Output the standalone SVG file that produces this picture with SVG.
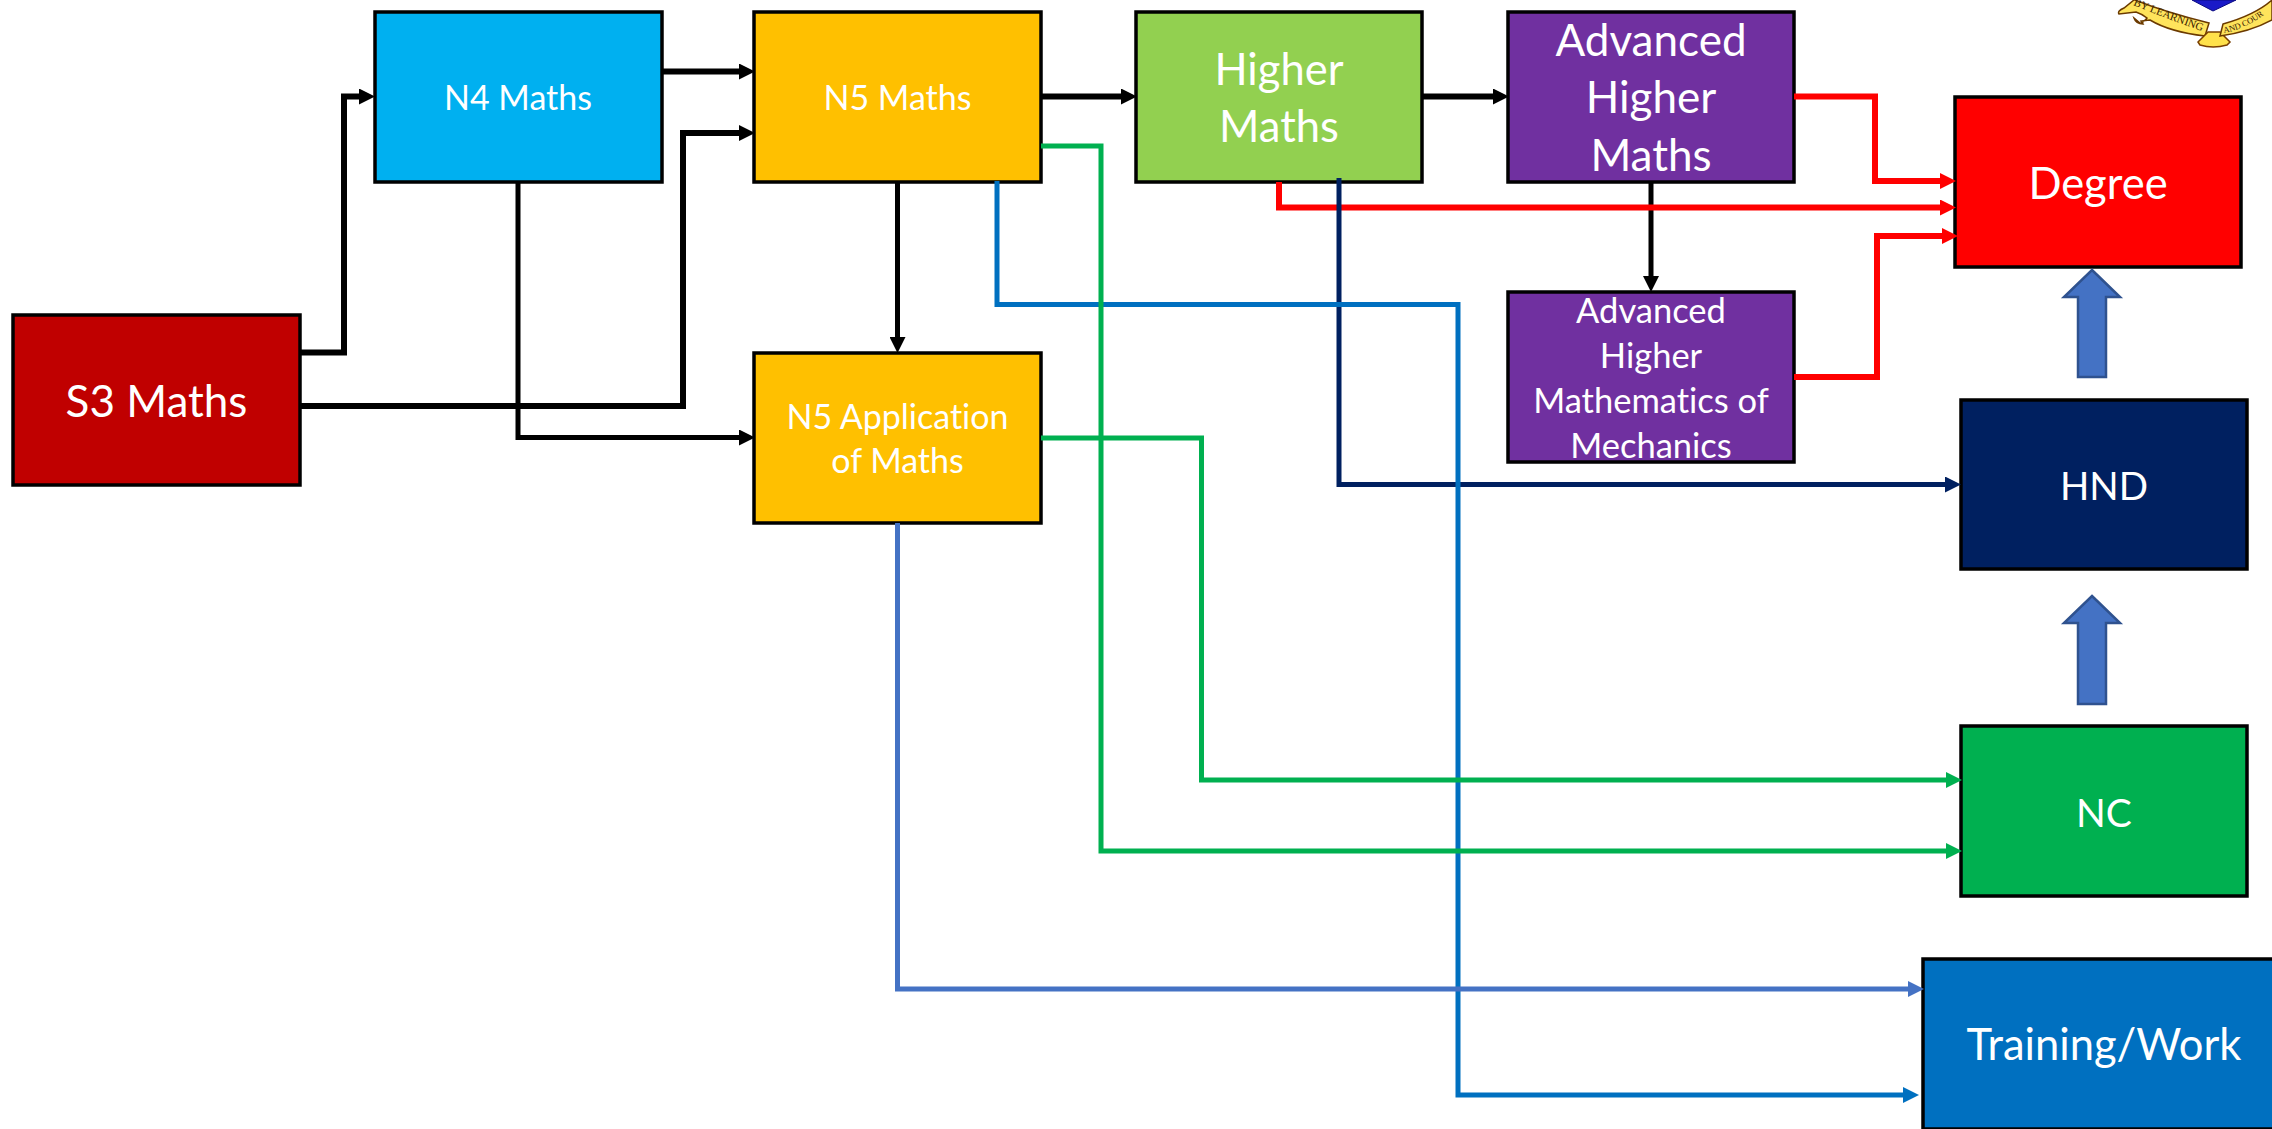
<svg xmlns="http://www.w3.org/2000/svg" width="2272" height="1129" viewBox="0 0 2272 1129">
<style>
.box{stroke:#000;stroke-width:3.5}
.lbl{font-family:"Lato","Liberation Sans",sans-serif;fill:#fff;text-anchor:middle;font-variant-ligatures:none}
.c{fill:none;stroke-linejoin:miter}
.k{stroke:#000;marker-end:url(#ak)}
.r{stroke:#f00;marker-end:url(#ar)}
.g{stroke:#00B050;marker-end:url(#ag)}
.n{stroke:#002060;marker-end:url(#an)}
.b{stroke:#0070C0;marker-end:url(#ab)}
.l{stroke:#4472C4;marker-end:url(#al)}
.w6{stroke-width:6}.w5{stroke-width:5}
.block{fill:#4472C4;stroke:#2F528F;stroke-width:2.5}
.crest{font-family:"Liberation Serif",serif;fill:#3a2200}
</style>
<defs>
<marker id="ak" markerUnits="userSpaceOnUse" markerWidth="17" markerHeight="16" refX="5" refY="8" orient="auto"><path d="M0,0L16,8L0,16Z" fill="#000"/></marker>
<marker id="ar" markerUnits="userSpaceOnUse" markerWidth="17" markerHeight="16" refX="5" refY="8" orient="auto"><path d="M0,0L16,8L0,16Z" fill="#f00"/></marker>
<marker id="ag" markerUnits="userSpaceOnUse" markerWidth="17" markerHeight="16" refX="5" refY="8" orient="auto"><path d="M0,0L16,8L0,16Z" fill="#00B050"/></marker>
<marker id="an" markerUnits="userSpaceOnUse" markerWidth="17" markerHeight="16" refX="5" refY="8" orient="auto"><path d="M0,0L16,8L0,16Z" fill="#002060"/></marker>
<marker id="ab" markerUnits="userSpaceOnUse" markerWidth="17" markerHeight="16" refX="5" refY="8" orient="auto"><path d="M0,0L16,8L0,16Z" fill="#0070C0"/></marker>
<marker id="al" markerUnits="userSpaceOnUse" markerWidth="17" markerHeight="16" refX="5" refY="8" orient="auto"><path d="M0,0L16,8L0,16Z" fill="#4472C4"/></marker>
<path id="ct1" d="M2133,5Q2165,18 2207,33"/>
<path id="ct2" d="M2224,33Q2250,28 2272,8"/>
</defs>
<rect width="2272" height="1129" fill="#fff"/>
<g id="crest">
<path d="M2134,0L2124,8Q2117,11 2119,14L2136,12Q2142,14 2147,18Q2142,24 2140,23L2134,18Q2136,24 2143,24L2141,21L2150,20Q2170,32 2205,36L2209,23Q2165,12 2135,0Z" fill="#ffe45c" stroke="#6b3a00" stroke-width="1.5"/>
<path d="M2198,42L2208,32L2220,32L2230,42L2227,45Q2213,49 2200,45Z" fill="#ffe14a" stroke="#7a3f00" stroke-width="1.5"/>
<path d="M2220,36L2223,24Q2255,15 2272,0V20Q2250,32 2220,36Z" fill="#ffe45c" stroke="#6b3a00" stroke-width="1.5"/>
<path d="M2192,0L2213,11L2236,0Z" fill="#1a1ac8" stroke="#0a0a80" stroke-width="1"/>
<text class="crest" font-size="11"><textPath href="#ct1">BY LEARNING</textPath></text>
<text class="crest" font-size="8.5"><textPath href="#ct2">AND COUR</textPath></text>
</g>
<g id="node-s3"><rect class="box" x="13" y="315" width="287" height="170" fill="#C00000"/><text class="lbl" font-size="44" x="156.5" y="417">S3 Maths</text></g>
<g id="node-n4"><rect class="box" x="375" y="12" width="287" height="170" fill="#00B0F0"/><text class="lbl" font-size="34" x="518" y="110">N4 Maths</text></g>
<g id="node-n5"><rect class="box" x="754" y="12" width="287" height="170" fill="#FFC000"/><text class="lbl" font-size="34" x="897.5" y="110">N5 Maths</text></g>
<g id="node-n5app"><rect class="box" x="754" y="353" width="287" height="170" fill="#FFC000"/><text class="lbl" font-size="34" x="897.5" y="429">N5 Application</text><text class="lbl" font-size="34" x="897.5" y="473">of Maths</text></g>
<g id="node-higher"><rect class="box" x="1136" y="12" width="286" height="170" fill="#92D050"/><text class="lbl" font-size="43.5" x="1279" y="85">Higher</text><text class="lbl" font-size="43.5" x="1279" y="142">Maths</text></g>
<g id="node-ah"><rect class="box" x="1508" y="12" width="286" height="170" fill="#7030A0"/><text class="lbl" font-size="44" x="1651" y="56">Advanced</text><text class="lbl" font-size="44" x="1651" y="113">Higher</text><text class="lbl" font-size="44" x="1651" y="171">Maths</text></g>
<g id="node-ahmm"><rect class="box" x="1508" y="292" width="286" height="170" fill="#7030A0"/><text class="lbl" font-size="34.5" x="1651" y="323">Advanced</text><text class="lbl" font-size="34.5" x="1651" y="368">Higher</text><text class="lbl" font-size="34.5" x="1651" y="413">Mathematics of</text><text class="lbl" font-size="34.5" x="1651" y="458">Mechanics</text></g>
<g id="node-degree"><rect class="box" x="1955" y="97" width="286" height="170" fill="#FF0000"/><text class="lbl" font-size="43.5" x="2098" y="198.5">Degree</text></g>
<g id="node-hnd"><rect class="box" x="1961" y="400" width="286" height="169" fill="#002060"/><text class="lbl" font-size="38.5" x="2104" y="500">HND</text></g>
<g id="node-nc"><rect class="box" x="1961" y="726" width="286" height="170" fill="#00B050"/><text class="lbl" font-size="39" x="2104" y="827">NC</text></g>
<g id="node-training"><rect class="box" x="1923" y="959" width="352" height="170" fill="#0070C0"/><text class="lbl" font-size="43.5" x="2104" y="1060">Training/Work</text></g>
<g id="block-arrows">
<path class="block" d="M2092,270L2120,297H2106V377H2078V297H2064Z"/>
<path class="block" d="M2092,596L2120,623H2106V704H2078V623H2064Z"/>
</g>
<g id="connectors">
<path class="c k w6" d="M300,352.5H344V96.5H364"/>
<path class="c k w6" d="M300,406H683V133H744"/>
<path class="c k w6" d="M662,71.5H744"/>
<path class="c k w5" d="M518,182V437.5H744"/>
<path class="c k w5" d="M897.5,182V342"/>
<path class="c k w6" d="M1041,96.5H1126"/>
<path class="c k w6" d="M1422,96.5H1498"/>
<path class="c k w5" d="M1651,182V281"/>
<path class="c r w6" d="M1794,96.5H1875V181H1945"/>
<path class="c r w6" d="M1279,182V207.5H1945"/>
<path class="c r w6" d="M1794,377H1877V236H1947"/>
<path class="c n w5" d="M1339,178V484.5H1950"/>
<path class="c b w5" d="M997,181V304.5H1458V1095H1908"/>
<path class="c g w5" d="M1041,146H1101V851H1951"/>
<path class="c g w5" d="M1041,438H1201.5V780H1951"/>
<path class="c l w5" d="M897.5,523V989H1913"/>
</g>
</svg>
